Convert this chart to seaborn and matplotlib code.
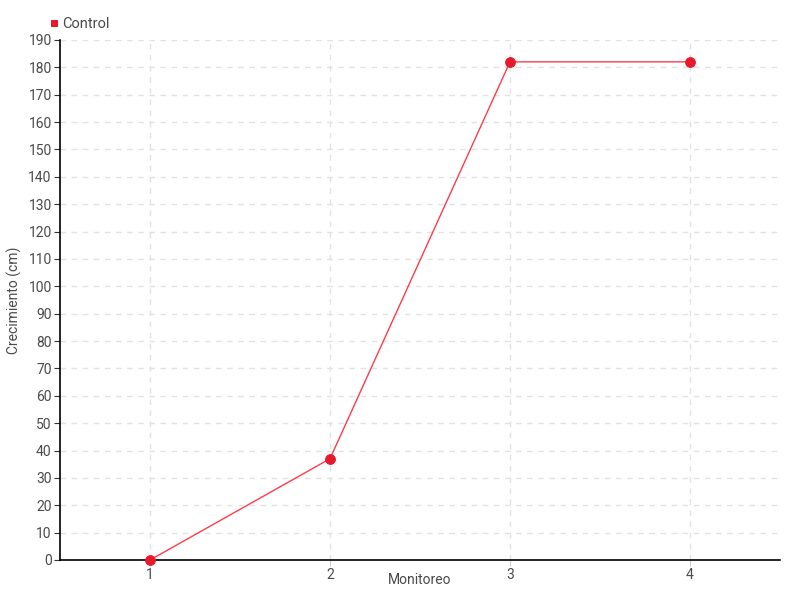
import matplotlib
matplotlib.use("Agg")
import pandas as pd
import seaborn as sns
import matplotlib.pyplot as plt

# data
monitoreo = [1, 2, 3, 4]
control = [0, 37, 182, 182]
y_ticks = list(range(0, 200, 10))

df = pd.DataFrame({"Monitoreo": monitoreo, "Crecimiento": control})

sns.set_style("white")
plt.rcParams['font.family'] = ['Roboto', 'DejaVu Sans']

fig = plt.figure(figsize=(8, 6), dpi=100)
ax = fig.add_axes([0.075, 0.0667, 0.9, 0.8667])

sns.lineplot(data=df, x="Monitoreo", y="Crecimiento", ax=ax, color="#ff3b4a",
             linewidth=1, marker="o", markersize=7, markerfacecolor="#e8192c",
             markeredgecolor="#e8192c", label="Control", clip_on=False, zorder=5)

ax.set_xlim(0.5, 4.5)
ax.set_ylim(0, 190)
ax.set_xticks(monitoreo)
ax.set_yticks(y_ticks)
ax.grid(True, color="#e2e2e2", linestyle=(0, (4, 4)), linewidth=1)
for side in ["top", "right"]:
    ax.spines[side].set_visible(False)
for side in ["left", "bottom"]:
    ax.spines[side].set_color("black")
    ax.spines[side].set_linewidth(1.2)
ax.tick_params(axis="both", colors="#4a4a4a", labelsize=10, length=4, direction="out",
               left=True, bottom=True, pad=2)
ax.tick_params(axis="x", color="#cccccc")
ax.tick_params(axis="y", color="#333333")
ax.set_xlabel("Monitoreo", color="#4a4a4a", fontsize=10)
ax.set_ylabel("Crecimiento (cm)", color="#4a4a4a", fontsize=10)
ax.xaxis.set_label_coords(0.5, -0.025, transform=ax.transAxes)
ax.yaxis.set_label_coords(-0.053, 0.5, transform=ax.transAxes)
ax.xaxis.label.set_va("top")

leg = ax.legend(loc="lower left", bbox_to_anchor=(-0.025, 1.0), frameon=False,
                handlelength=0.5, handletextpad=0.3, fontsize=10.5,
                labelcolor="#4a4a4a", borderaxespad=0.2)
for h in leg.legend_handles:
    h.set_linestyle("None")
    h.set_marker("s")
    h.set_markersize(5)

fig.savefig("out.png", dpi=100)
